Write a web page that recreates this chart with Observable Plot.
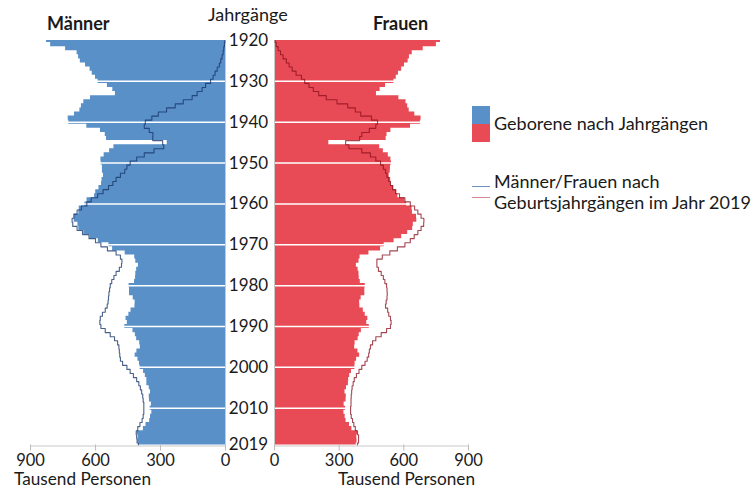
<!DOCTYPE html>
<html><head><meta charset="utf-8">
<script src="https://cdn.jsdelivr.net/npm/d3@7"></script>
<script src="https://cdn.jsdelivr.net/npm/@observablehq/plot@0.6"></script>
<style>
body{margin:0;background:#fff;font-family:Lato,sans-serif;color:#1a1a1a}
#chart{position:relative;width:751px;height:490px;overflow:hidden}
#chart svg{position:absolute;top:0}
.t{position:absolute;white-space:nowrap;line-height:1.2}
.ax{line-height:0.85}
.sw{position:absolute}
</style></head><body>
<div id="chart">
  <div class="t" style="left:47px;top:13px;font-size:18px;font-weight:bold">Männer</div>
  <div class="t" style="left:373px;top:13px;font-size:18px;font-weight:bold">Frauen</div>
  <div class="t" style="left:208px;top:4px;font-size:18px">Jahrgänge</div>
  <div class="t ax" style="left:14px;top:472px;font-size:17.2px">Tausend Personen</div>
  <div class="t ax" style="left:338px;top:472px;font-size:17.2px">Tausend Personen</div>
  <div class="sw" style="left:472px;top:106px;width:18px;height:17.5px;background:#5990c8"></div>
  <div class="sw" style="left:472px;top:123.5px;width:18px;height:18.5px;background:#e84b55"></div>
  <div class="t" style="left:494px;top:113px;font-size:18px">Geborene nach Jahrgängen</div>
  <div class="sw" style="left:472px;top:186px;width:18px;height:1.2px;background:#6f94c0"></div>
  <div class="sw" style="left:472px;top:196.7px;width:18px;height:1.2px;background:#d08a90"></div>
  <div class="t" style="left:494px;top:170.5px;font-size:18px">Männer/Frauen nach</div>
  <div class="t" style="left:494px;top:192px;font-size:18px">Geburtsjahrgängen im Jahr 2019</div>
</div>
<script>
const years = d3.range(1920, 2020);
const yearLabels = [1920, 1930, 1940, 1950, 1960, 1970, 1980, 1990, 2000, 2010, 2019];
const decadeLines = [1930, 1940, 1950, 1960, 1970, 1980, 1990, 2000, 2010];
const xTicks = [0, 300, 600, 900];

// Geborene nach Jahrgängen (Tausend)
const menBirths = [
  826, 807, 738, 685, 678, 670, 646, 625, 615, 600,
  588, 545, 520, 508, 623, 654, 665, 672, 697, 726,
  723, 640, 577, 555, 549, 269, 515, 535, 560, 575,
  574, 568, 568, 563, 570, 572, 584, 599, 604, 639,
  649, 675, 677, 697, 698, 681, 677, 654, 625, 587,
  538, 521, 463, 419, 414, 402, 410, 414, 415, 420,
  445, 443, 443, 426, 417, 418, 436, 446, 459, 453,
  465, 427, 416, 410, 396, 393, 409, 417, 404, 397,
  394, 378, 370, 363, 363, 352, 346, 352, 351, 342,
  348, 340, 346, 350, 367, 379, 407, 403, 404, 399];
const womenBirths = [
  770, 751, 690, 639, 626, 620, 603, 590, 575, 565,
  554, 515, 490, 473, 577, 610, 618, 625, 651, 680,
  677, 631, 540, 522, 518, 252, 488, 505, 528, 540,
  543, 538, 537, 532, 539, 541, 553, 567, 572, 605,
  613, 638, 640, 659, 660, 644, 641, 618, 590, 555,
  509, 492, 438, 397, 392, 380, 388, 392, 393, 398,
  421, 419, 419, 402, 395, 396, 412, 421, 433, 428,
  440, 403, 393, 388, 374, 372, 387, 395, 381, 374,
  373, 357, 349, 344, 343, 334, 327, 333, 332, 323,
  330, 322, 328, 332, 348, 359, 385, 382, 383, 379];
// Bevölkerung 2019 nach Geburtsjahrgängen (Tausend)
const men2019 = [
  3, 5, 8, 11, 16, 22, 28, 38, 48, 57,
  69, 92, 108, 131, 154, 195, 232, 272, 310, 340,
  370, 375, 352, 335, 336, 290, 285, 330, 375, 410,
  440, 455, 465, 485, 505, 520, 540, 565, 590, 620,
  640, 665, 685, 700, 708, 705, 685, 660, 630, 600,
  575, 545, 505, 485, 478, 480, 490, 505, 515, 525,
  532, 535, 538, 540, 542, 546, 555, 568, 578, 580,
  575, 555, 532, 512, 498, 492, 490, 488, 485, 475,
  455, 440, 425, 410, 400, 393, 387, 382, 380, 377,
  377, 377, 380, 385, 395, 405, 412, 410, 408, 402];
const women2019 = [
  3, 8, 17, 28, 40, 55, 68, 82, 100, 125,
  140, 160, 180, 205, 240, 290, 340, 375, 400, 450,
  478, 470, 440, 405, 395, 330, 345, 405, 445, 470,
  492, 505, 515, 522, 530, 538, 548, 562, 580, 605,
  630, 650, 665, 680, 693, 692, 680, 665, 648, 630,
  605, 570, 535, 500, 475, 475, 482, 495, 505, 512,
  520, 522, 523, 522, 518, 515, 525, 530, 538, 541,
  538, 520, 495, 470, 455, 445, 440, 437, 430, 420,
  405, 392, 380, 370, 365, 360, 358, 356, 355, 355,
  353, 353, 356, 362, 368, 375, 385, 390, 390, 385];

const steps = vals => years.flatMap((yr, i) => [
  {y: Math.max(1920, yr - 0.5), v: vals[i]},
  {y: Math.min(2019, yr + 0.5), v: vals[i]}
]);

function panel({births, pop, fill, stroke, reverse, width, ml, mr, left, yearAxis}) {
  const marks = [
    Plot.areaX(steps(births), {y: "y", x1: 0, x2: "v", fill, curve: "linear"}),
    Plot.ruleY(decadeLines, {stroke: "white", strokeWidth: 1.5}),
    Plot.ruleX([0], {stroke: "#c9c9c9", strokeWidth: 1}),
    Plot.lineX(steps(pop), {y: "y", x: "v", stroke, strokeWidth: 1.1, curve: "linear"}),
    Plot.ruleY([2019], {x1: 0, x2: 900, stroke: "#c9c9c9", dy: 1}),
    Plot.axisX({ticks: xTicks, tickSize: 6, tickPadding: 3, stroke: "#bdbdbd", fill: "#1a1a1a", fontSize: 16.5, label: null, tickFormat: d => String(d)})
  ];
  if (yearAxis) marks.push(Plot.axisY({anchor: "right", ticks: yearLabels, tickSize: 0, tickPadding: 3, textAnchor: "middle", dx: 20, fontSize: 17, fill: "#1a1a1a", label: null, tickFormat: d => String(d)}));
  const svg = Plot.plot({
    width, height: 490, marginTop: 40, marginBottom: 45.5, marginLeft: ml, marginRight: mr,
    style: {background: "none", fontFamily: "Lato, sans-serif", overflow: "visible"},
    x: {domain: [0, 900], reverse, label: null},
    y: {domain: [1920, 2019], reverse: true, label: null, axis: yearAxis ? undefined : null},
    marks
  });
  svg.style.left = left + "px";
  return svg;
}

const chart = document.getElementById("chart");
chart.appendChild(panel({births: menBirths, pop: men2019, fill: "#5990c8", stroke: "rgba(22,52,105,0.78)", reverse: true, width: 274, ml: 30, mr: 49, left: 0, yearAxis: true}));
chart.appendChild(panel({births: womenBirths, pop: women2019, fill: "#e84b55", stroke: "rgba(140,18,32,0.78)", reverse: false, width: 251, ml: 25, mr: 32, left: 249, yearAxis: false}));
</script>
</body></html>
